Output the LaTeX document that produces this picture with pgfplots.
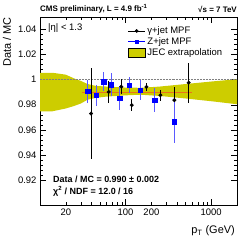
\documentclass[border=0pt]{standalone}
\usepackage{pgfplots}
\pgfplotsset{compat=1.18}
\usepackage{fontspec}
\setmainfont{Liberation Sans}
\definecolor{jec}{RGB}{205,205,0}
\definecolor{fitorange}{RGB}{235,115,25}
\definecolor{zblue}{RGB}{0,0,255}
\definecolor{zbar}{RGB}{90,90,255}
\begin{document}
\begin{tikzpicture}
\begin{axis}[
  at={(0,0)}, anchor=south west,
  scale only axis, width=197bp, height=188bp,
  xmode=log, xmin=10, xmax=2000, ymin=0.9, ymax=1.05,
  xtick={100,1000}, xticklabels={100,1000},
  extra x ticks={20,200}, extra x tick labels={20,200},
  extra x tick style={major tick length=3bp},
  minor xtick={30,40,50,60,70,80,90,300,400,500,600,700,800,900},
  ytick={0.92,0.94,0.96,0.98,1,1.02,1.04},
  yticklabels={0.92,0.94,0.96,0.98,1,1.02,1.04},
  minor y tick num=4,
  tick align=inside, major tick length=6bp, minor tick length=3bp,
  tick style={black, line width=0.4pt},
  ticklabel style={font=\fontsize{9.5}{11}\selectfont},
  /pgf/number format/assume math mode=true,
  axis line style={line width=0.5pt},
  legend style={draw=none, fill=none, at={(0.44,0.965)}, anchor=north west,
    font=\fontsize{9.5}{10.5}\selectfont, row sep=-1.5pt, inner sep=1pt},
  legend cell align=left,
]
% JEC band
\addplot[fill=jec, draw=none, forget plot] coordinates {
 (10,1.0055) (14,1.0055) (20,1.004) (25,1.001) (30,0.999) (36,0.9965) (45,0.995)
 (60,0.9945) (100,0.9937) (150,0.9935) (250,0.9945) (500,0.9965) (1000,0.9985) (2000,1.0004)
 (2000,0.9804) (1000,0.9828) (500,0.985) (250,0.987) (150,0.988) (100,0.9875) (60,0.9865)
 (45,0.9855) (36,0.984) (30,0.981) (25,0.979) (20,0.977) (14,0.9748) (10,0.9748)
} -- cycle;
% line at 1
\addplot[gray, densely dotted, line width=0.5pt, forget plot] coordinates {(10,1) (2000,1)};
% fit
\addplot[fitorange, line width=1.3pt, forget plot] coordinates {(30.8,0.990) (596,0.990)};
% gamma+jet
\addplot[black, only marks, mark=*, mark size=1.8pt, forget plot,
  error bars/.cd, y dir=both, y explicit, error mark=none,
  error bar style={black, line width=0.6pt}] coordinates {
 (39.5,0.9730) +- (0,0.0366)
 (63.4,0.9902) +- (0,0.009)
 (89.1,0.9944) +- (0,0.006)
 (118,0.9797) +- (0,0.0045)
 (175,0.9942) +- (0,0.003)
 (255,0.9876) +- (0,0.0045)
 (371,0.9837) +- (0,0.0105)
 (545,0.9976) +- (0,0.016)
};
% Z+jet
\addplot[zblue, only marks, mark=square*, mark size=2.1pt, forget plot,
  error bars/.cd, y dir=both, y explicit, error mark=none,
  error bar style={zbar, line width=0.6pt}] coordinates {
 (36.1,0.9905) +- (0,0.0093)
 (45.6,0.9873) +- (0,0.0085)
 (55.5,0.9984) +- (0,0.0078)
 (67.4,0.9960) +- (0,0.009)
 (85.2,0.9852) +- (0,0.0097)
 (109,0.9956) +- (0,0.0065)
 (148,0.9916) +- (0,0.0078)
 (219,0.9837) +- (0,0.0097)
 (371,0.9664) +- (0,0.017)
};
\addlegendimage{black, mark=*, mark size=1.5pt, line width=0.6pt}
\addlegendentry{γ+jet MPF}
\addlegendimage{zblue, mark=square*, mark size=1.8pt, line width=0.6pt}
\addlegendentry{Z+jet MPF}
\addlegendimage{legend image code/.code={\draw[fill=jec, draw=black, line width=0.4pt] (0cm,-0.15cm) rectangle (0.6cm,0.17cm);}}
\addlegendentry{JEC extrapolation}
\end{axis}
\node[anchor=west, font=\fontsize{8}{9}\selectfont\bfseries, inner sep=0] at (0bp,196bp) {CMS preliminary, L = 4.9 fb\textsuperscript{-1}};
\node[anchor=east, font=\fontsize{8}{9}\selectfont\bfseries, inner sep=0] at (197bp,196bp) {√s = 7 TeV};
\node[anchor=west, font=\fontsize{9.5}{11}\selectfont, inner sep=0] at (8bp,177bp) {|η| < 1.3};
\node[anchor=west, font=\fontsize{9}{10}\selectfont\bfseries, inner sep=0] at (13bp,26bp) {Data / MC = 0.990 ± 0.002};
\node[anchor=west, font=\fontsize{9}{10}\selectfont\bfseries, inner sep=0] at (13bp,14bp) {χ\textsuperscript{2} / NDF = 12.0 / 16};
\node[anchor=east, font=\fontsize{11}{12}\selectfont, inner sep=0] at (195bp,-26bp) {p\textsubscript{T} (GeV)};
\node[anchor=east, rotate=90, font=\fontsize{11}{12}\selectfont, inner sep=0] at (-33bp,188bp) {Data / MC};
\pgfresetboundingbox
\path (-40bp,-38bp) rectangle (212bp,205bp);
\end{tikzpicture}
\end{document}
